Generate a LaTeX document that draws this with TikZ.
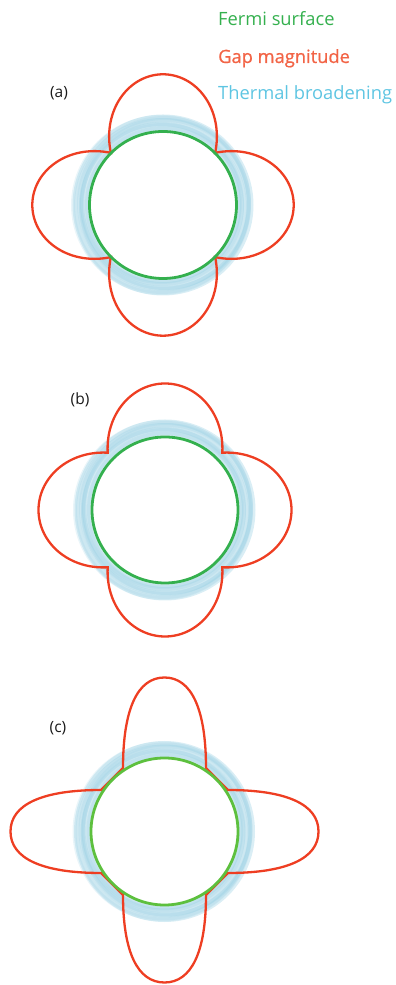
\documentclass[tikz,border=0pt]{standalone}
\usepackage{fontspec}
\setmainfont{Open Sans}
\newfontfamily\gapfont[FakeBold=0.8]{Open Sans}
\usepackage{tikz}
\usetikzlibrary{positioning}
\definecolor{fermigreen}{RGB}{52,176,78}
\definecolor{gapred}{RGB}{238,62,34}
\definecolor{gaptext}{RGB}{242,100,70}
\definecolor{thermalblue}{RGB}{94,197,226}
\definecolor{bandblue}{RGB}{150,206,226}

\begin{document}
\begin{tikzpicture}[x=1pt,y=1pt,
  legend/.style={anchor=base west,inner sep=0pt,font=\fontsize{18.3}{21}\selectfont},
  panel/.style={inner sep=0pt,text=black!90,font=\fontsize{15.5}{18}\selectfont},
  fermi/.style={draw=fermigreen,line width=2.8pt},
  gap/.style={draw=gapred,line width=2.3pt},
  band/.style={draw=bandblue,opacity=0.2,line width=4pt}]
\useasboundingbox (0,0) rectangle (396,985);

% legend
\node[legend,text=fermigreen] (fermi) at (218,959) {Fermi surface};
\node[legend,text=gaptext,font=\gapfont\fontsize{18.3}{21}\selectfont] (gap)
  [below=37pt of fermi.base west,anchor=base west] {Gap magnitude};
\node[legend,text=thermalblue] (thermal) [below=37pt of gap.base west,anchor=base west] {Thermal broadening};

% panel labels
\node[panel] (la) at (59,892) {(a)};
\node[panel] (lb) at (80,585) {(b)};
\node[panel] (lc) at (58,257) {(c)};

% (a) nodes on the Fermi surface
\begin{scope}[shift={(163,780)}]
  \draw[band,opacity=0.35,line width=16pt] (0,0) circle[radius=82.5];
  \foreach \r/\dx/\dy in {76/0/0,78/1/-1,80/-1/1,82/0/-2,84/2/1,86/-1/-1,88/-2/0,85/1/2,79/-2/2}
    \draw[band] (\dx,\dy) circle[radius=\r];
  \draw[gap] plot[domain=0:360,samples=361] (\x:{73.7+57*abs(cos(2*\x))}) -- cycle;
  \draw[fermi] (0,0) circle[radius=73.5];
\end{scope}

% (b) minimum just outside the Fermi surface
\begin{scope}[shift={(165,475)}]
  \draw[band,opacity=0.35,line width=16pt] (0,0) circle[radius=82.5];
  \foreach \r/\dx/\dy in {76/0/0,78/1/-1,80/-1/1,82/0/-2,84/2/1,86/-1/-1,88/-2/0,85/1/2,79/-2/2}
    \draw[band] (\dx,\dy) circle[radius=\r];
  \draw[gap] plot[domain=0:360,samples=361] (\x:{81+45.5*abs(cos(2*\x))}) -- cycle;
  \draw[fermi] (0,0) circle[radius=73];
\end{scope}

% (c) narrow lobes
\begin{scope}[shift={(164.5,153.5)}]
  \draw[band,opacity=0.35,line width=16pt] (0,0) circle[radius=82.5];
  \foreach \r/\dx/\dy in {76/0/0,78/1/-1,80/-1/1,82/0/-2,84/2/1,86/-1/-1,88/-2/0,85/1/2,79/-2/2}
    \draw[band] (\dx,\dy) circle[radius=\r];
  \draw[gap] (41.5,63.5) .. controls (41.5,122.3) and (27,154) .. (0,154)
    .. controls (-27,154) and (-41.5,122.3) .. (-41.5,63.5)
    -- (-63.5,41.5) .. controls (-122.3,41.5) and (-154,27) .. (-154,0)
    .. controls (-154,-27) and (-122.3,-41.5) .. (-63.5,-41.5)
    -- (-41.5,-63.5) .. controls (-41.5,-120.5) and (-27,-151) .. (0,-151)
    .. controls (27,-151) and (41.5,-120.5) .. (41.5,-63.5)
    -- (63.5,-41.5) .. controls (122.3,-41.5) and (154,-27) .. (154,0)
    .. controls (154,27) and (122.3,41.5) .. (63.5,41.5) -- cycle;
  \draw[fermi,draw=fermigreen!80!yellow] (0,0) circle[radius=73.5];
\end{scope}
\end{tikzpicture}
\end{document}
